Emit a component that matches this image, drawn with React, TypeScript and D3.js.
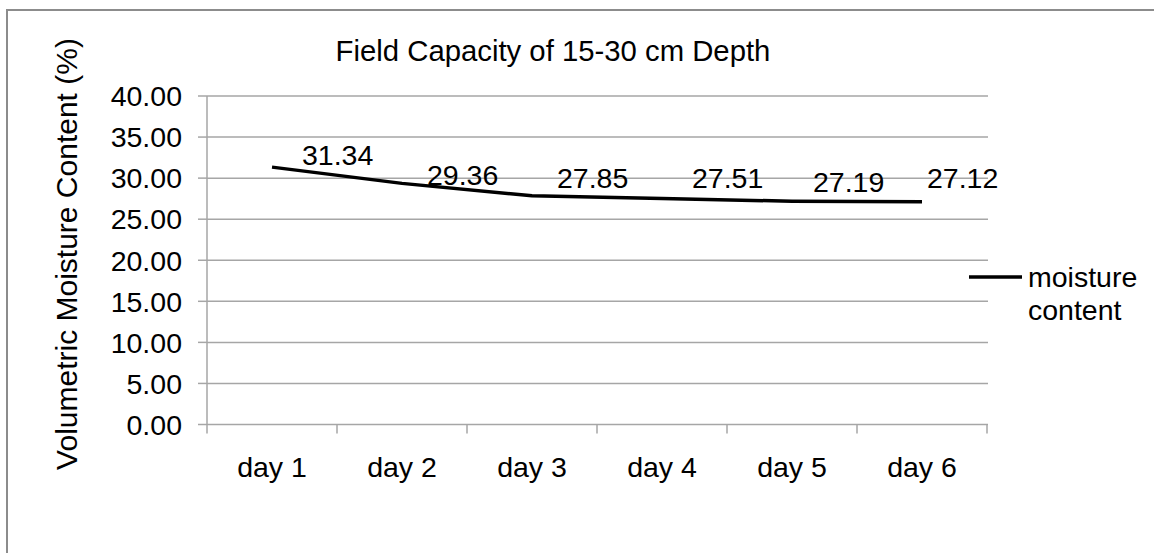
import React from 'react';
import * as d3 from 'd3';

const days = ['day 1', 'day 2', 'day 3', 'day 4', 'day 5', 'day 6'];
const moisture = [31.34, 29.36, 27.85, 27.51, 27.19, 27.12];
const yTicks = [0, 5, 10, 15, 20, 25, 30, 35, 40];

// label nudges (dx from point, dy from point) as excel placed them
const labelNudge: [number, number][] = [
  [30, -2], [25, 2], [25, -8], [30, -11], [21, -9], [5, -14],
];

const W = 1154;
const H = 553;
const FONT = '"Liberation Sans", Arial, sans-serif';
const FS = 28.5;

const App = () => {
  const x = d3.scaleBand<string>().domain(days).range([207, 987]);
  const y = d3.scaleLinear().domain([0, 40]).range([424.5, 96]);
  const cx = (d: string) => (x(d) as number) + x.bandwidth() / 2;

  const line = d3.line<number>()
    .x((_, i) => cx(days[i]))
    .y((d) => y(d));

  const [x0, x1] = x.range();
  const bounds = days.map((d) => x(d) as number).concat([x1]);

  return (
    <svg width={W} height={H} style={{ position: 'absolute', left: 0, top: 0, background: '#fff' }}
      fontFamily={FONT} fontSize={FS}>
      {/* chart area border, right/bottom edges run off the picture */}
      <rect x={7} y={10} width={W + 20} height={H + 20} fill="#fff" stroke="#8c8c8c" strokeWidth={2} />

      <text x={553} y={61} textAnchor="middle" fill="#000" fontSize={29.3}>Field Capacity of 15-30 cm Depth</text>

      {yTicks.map((t) => (
        <g key={t}>
          <line x1={x0} x2={x1 + 1} y1={y(t)} y2={y(t)} stroke="#a6a6a6" strokeWidth={1.5} />
          <line x1={198} x2={x0} y1={y(t)} y2={y(t)} stroke="#a6a6a6" strokeWidth={1.5} />
          <text x={182} y={y(t) + 10.3} textAnchor="end" fill="#000">{t.toFixed(2)}</text>
        </g>
      ))}
      <line x1={x0} x2={x0} y1={y(40)} y2={y(0)} stroke="#a6a6a6" strokeWidth={1.5} />
      {bounds.map((b, i) => (
        <line key={i} x1={b} x2={b} y1={y(0)} y2={y(0) + 9} stroke="#a6a6a6" strokeWidth={1.5} />
      ))}
      {days.map((d) => (
        <text key={d} x={cx(d)} y={477} textAnchor="middle" fill="#000">{d}</text>
      ))}

      <text transform={`translate(77,254) rotate(-90)`} textAnchor="middle" fill="#000" fontSize={30}>
        Volumetric Moisture Content (%)
      </text>

      <path d={line(moisture) || ''} fill="none" stroke="#000" strokeWidth={3.5} strokeLinejoin="round" />
      {moisture.map((v, i) => (
        <text key={i} x={cx(days[i]) + labelNudge[i][0]} y={y(v) + labelNudge[i][1]} fill="#000">
          {v.toFixed(2)}
        </text>
      ))}

      <line x1={969} x2={1022} y1={277} y2={277} stroke="#000" strokeWidth={3.5} />
      <text x={1028} y={287} fill="#000">moisture</text>
      <text x={1028} y={320} fill="#000">content</text>
    </svg>
  );
};

export default App;
